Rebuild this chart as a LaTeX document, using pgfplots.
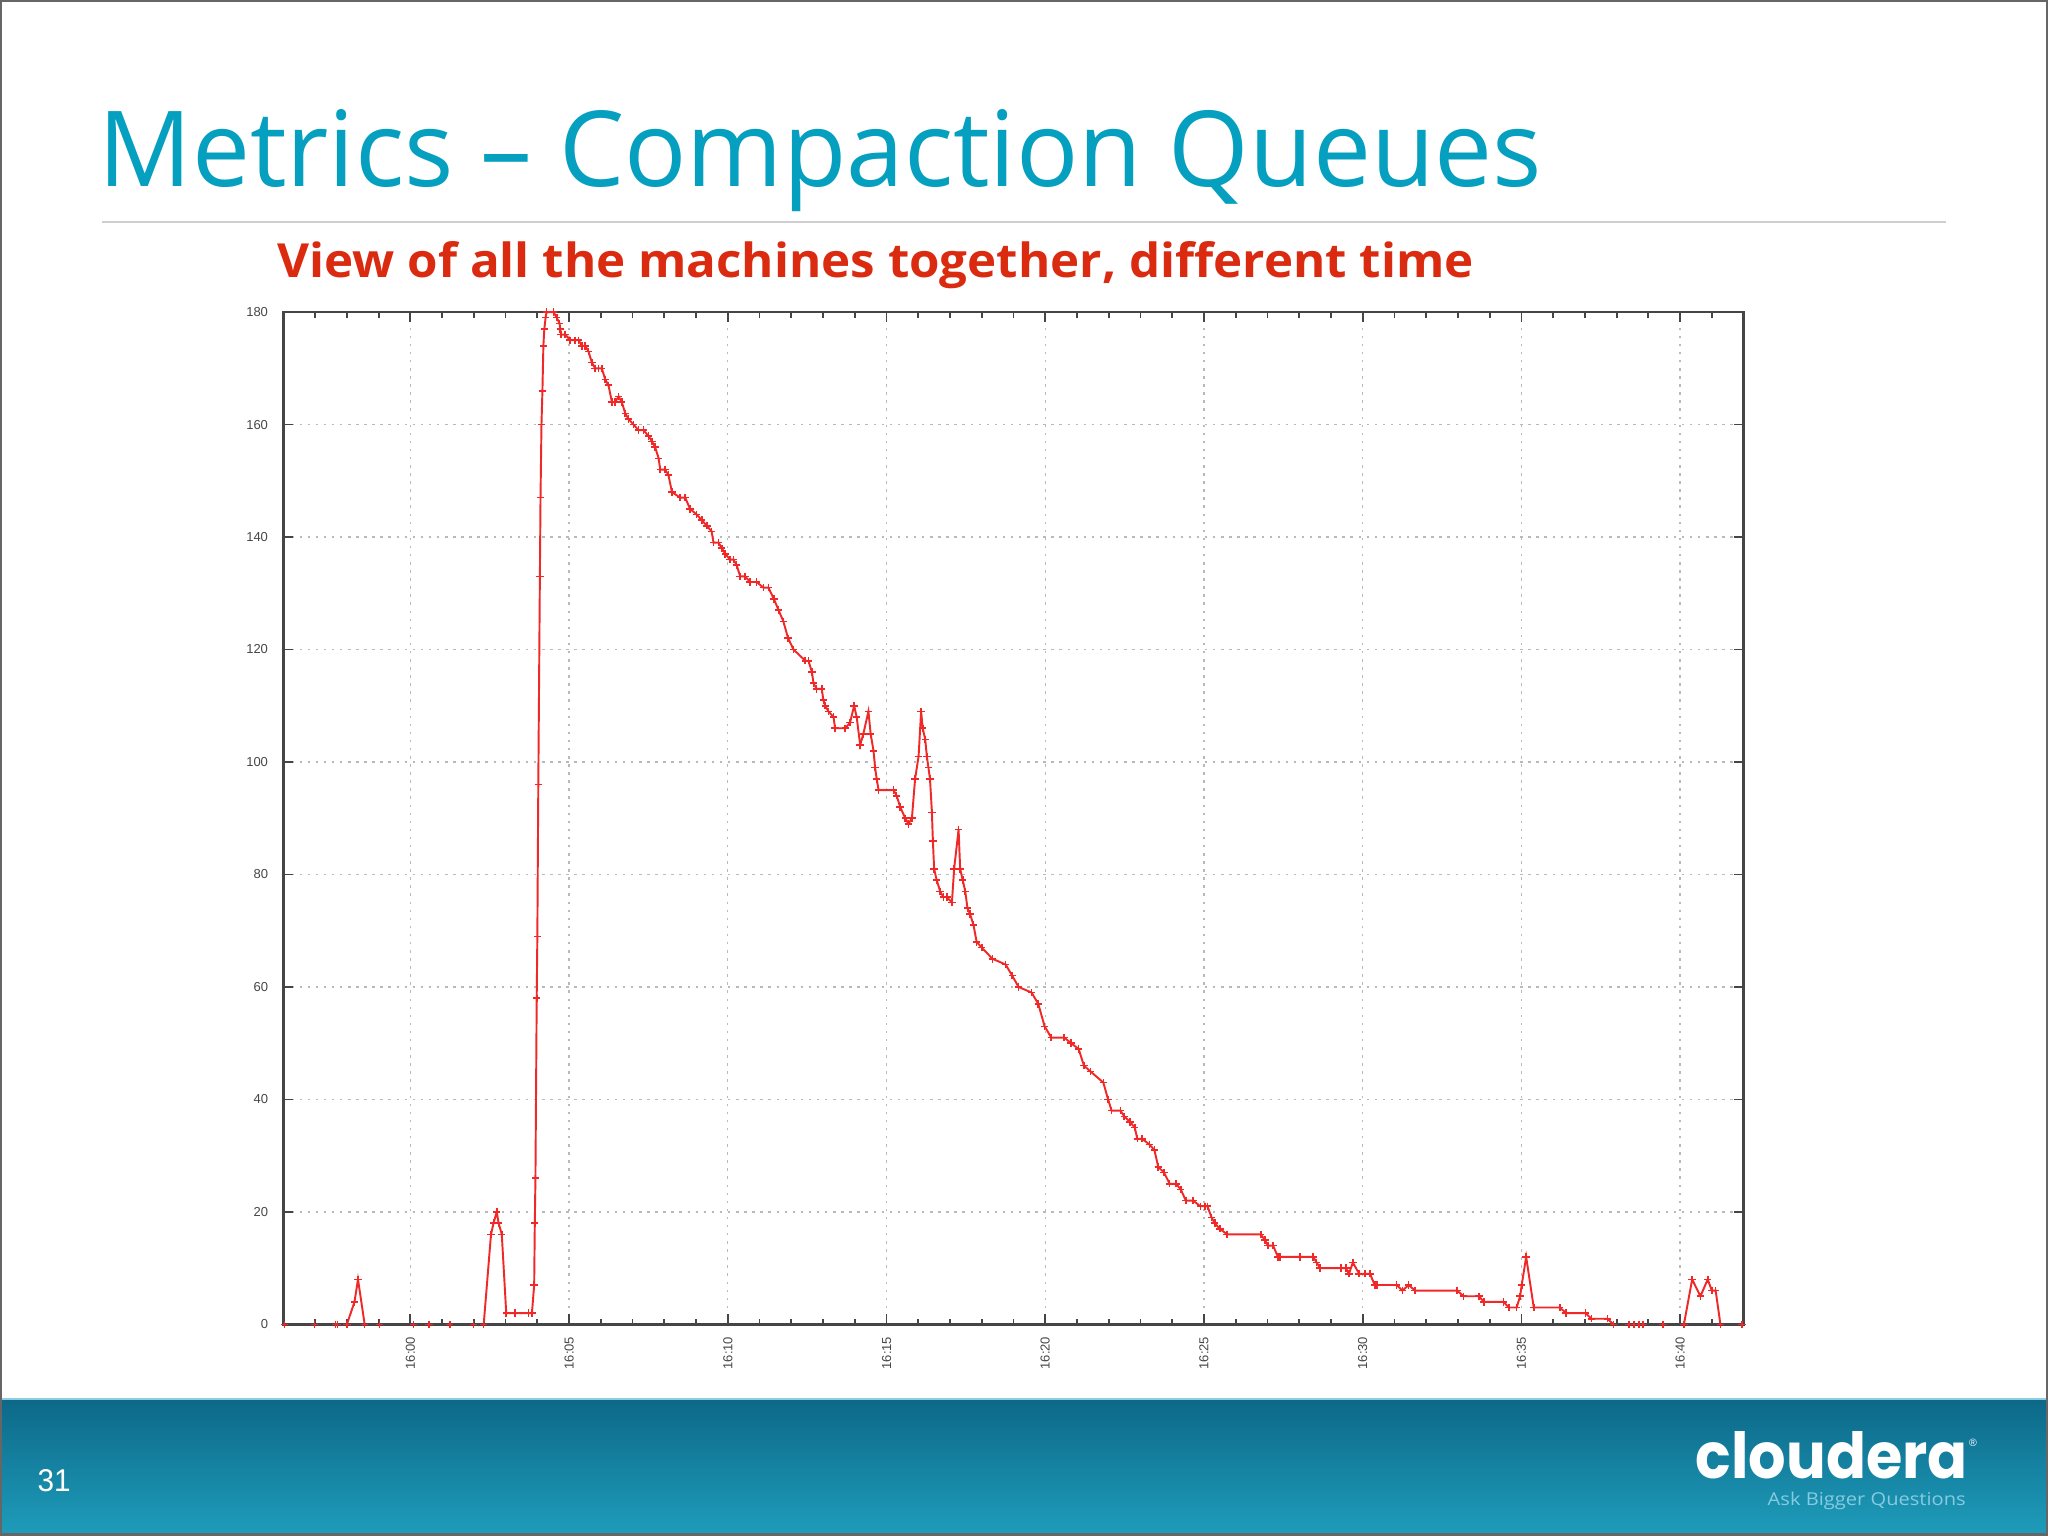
\documentclass[border=0pt]{standalone}
\usepackage{fontspec}
\usepackage{graphicx}
\usepackage{pgfplots}
\usepackage{pgfplotstable}
\pgfplotsset{compat=1.18}
\setmainfont{Open Sans}
\newfontfamily\tickfont{Liberation Sans}
\newfontfamily\numfont{Liberation Sans}
\newfontfamily\logofont{Poppins}
\definecolor{titleblue}{HTML}{059FBF}
\definecolor{subred}{HTML}{DA2A10}
\definecolor{rulegray}{HTML}{CFCFCF}
\definecolor{foottop}{HTML}{0D6888}
\definecolor{footbot}{HTML}{1E9DBB}
\definecolor{footline}{HTML}{8CCDE0}
\definecolor{tagblue}{HTML}{86CBE0}
\definecolor{axisgray}{HTML}{454545}
\definecolor{plotred}{HTML}{F02828}

\pgfplotstableread{
m v
-3.96 0
nan nan
-3.02 0
nan nan
-2.36 0
-2.29 0
nan nan
-2.00 0
-1.76 4
-1.65 8
-1.44 0
nan nan
-0.97 0
nan nan
0.10 0
nan nan
0.59 0
nan nan
1.24 0
nan nan
1.99 0
nan nan
2.31 0
2.54 16
2.62 18
2.72 20
2.78 18
2.88 16
3.02 2
3.30 2
3.72 2
3.83 2
3.90 7
3.92 18
3.94 26
3.98 58
4.00 69
4.03 96
4.08 133
4.10 147
4.13 160
4.16 166
4.19 174
4.22 177
4.26 179
4.29 180
4.51 180
4.61 179
4.70 178
4.72 177
4.75 176
4.88 176
5.03 175
5.19 175
5.30 175
5.40 174
5.51 174
5.61 173
5.72 171
5.82 170
5.93 170
6.03 170
6.14 168
6.24 167
6.35 164
6.45 164
6.56 165
6.66 164
6.77 162
6.87 161
7.03 160
7.19 159
7.34 159
7.50 158
7.61 157
7.71 156
7.82 154
7.87 152
8.03 152
8.13 151
8.24 148
8.50 147
8.66 147
8.81 145
9.02 144
9.18 143
9.34 142
9.49 141
9.55 139
9.71 139
9.81 138
9.92 137
10.07 136
10.18 136
10.28 135
10.39 133
10.55 133
10.70 132
10.91 132
11.12 131
11.28 131
11.45 129
11.60 127
11.75 125
11.90 122
12.07 120
12.44 118
12.54 118
12.65 116
12.70 114
12.80 113
12.96 113
13.01 111
13.07 110
13.17 109
13.33 108
13.38 106
13.70 106
13.85 107
13.98 110
14.06 108
14.17 103
14.27 105
14.43 109
14.50 105
14.59 102
14.64 99
14.69 97
14.75 95
15.22 95
15.32 94
15.43 92
15.59 90
15.69 89
15.80 90
15.90 97
16.01 101
16.09 109
16.14 106
16.22 104
16.27 101
16.32 99
16.37 97
16.43 91
16.46 86
16.50 81
16.58 79
16.69 77
16.79 76
16.90 76
17.06 75
17.13 81
17.27 88
17.32 81
17.40 79
17.48 77
17.55 74
17.63 73
17.74 71
17.84 68
18.00 67
18.34 65
18.75 64
18.96 62
19.16 60
19.57 59
19.78 57
19.98 53
20.19 51
20.60 51
20.81 50
21.05 49
21.22 46
21.42 45
21.83 43
21.98 40
22.09 38
22.37 38
22.49 37
22.67 36
22.82 35
22.90 33
23.05 33
23.28 32
23.44 31
23.56 28
23.74 27
23.92 25
24.12 25
24.27 24
24.43 22
24.66 22
24.89 21
25.04 21
25.11 21
25.24 19
25.34 18
25.50 17
25.73 16
26.79 16
26.92 15
27.02 14
27.18 14
27.33 12
27.40 12
28.02 12
28.44 12
28.55 11
28.66 10
29.31 10
29.47 10
29.57 9
29.69 11
29.89 9
30.08 9
30.23 9
30.38 7
30.46 7
31.07 7
31.25 6
31.45 7
31.65 6
32.98 6
33.18 5
33.66 5
33.82 4
34.43 4
34.61 3
34.85 3
34.96 5
35.01 7
35.15 12
35.39 3
36.21 3
36.41 2
37.02 2
37.21 1
37.71 1
37.90 0
nan nan
38.39 0
nan nan
38.55 0
nan nan
38.70 0
nan nan
38.83 0
nan nan
39.46 0
nan nan
40.12 0
40.38 8
40.64 5
40.87 8
41.00 6
41.12 6
41.27 0
nan nan
41.95 0
}\datatable

\begin{document}
\begin{tikzpicture}
\useasboundingbox (0,0) rectangle (20.48,15.36);
\fill[white] (0,0) rectangle (20.48,15.36);
% footer band
\shade[top color=foottop, bottom color=footbot] (0,0) rectangle (20.48,1.37);
\draw[footline, line width=0.25mm] (0,1.37) -- (20.48,1.37);
% title
\node[anchor=base west, inner sep=0, text=titleblue] at (0.98,13.49)
  {\resizebox{14.43cm}{0.77cm}{Metrics – Compaction Queues}};
\draw[rulegray, line width=0.15mm] (1.02,13.14) -- (19.46,13.14);
\node[anchor=base west, inner sep=0, text=subred] at (2.77,12.58)
  {\resizebox{11.96cm}{0.36cm}{\bfseries View of all the machines together, different time}};
% footer texts
\node[anchor=base west, inner sep=0, text=white] at (0.37,0.44)
  {\resizebox{0.33cm}{0.22cm}{\numfont 31}};
\node[anchor=base west, inner sep=0, text=white] at (16.95,0.575)
  {\resizebox{2.72cm}{0.47cm}{\logofont\bfseries cloudera}};
\node[inner sep=0, text=white] at (19.73,0.93) {\numfont\fontsize{3}{3}\selectfont ®};
\node[anchor=base west, inner sep=0, text=tagblue] at (17.67,0.30)
  {\resizebox{1.98cm}{0.135cm}{Ask Bigger Questions}};

\begin{axis}[
  at={(2.834cm,2.116cm)}, anchor=south west,
  width=14.602cm, height=10.123cm, scale only axis,
  xmin=-4, xmax=42, ymin=0, ymax=180,
  xtick={0,5,...,40},
  xticklabels={16:00,16:05,16:10,16:15,16:20,16:25,16:30,16:35,16:40},
  minor xtick={-3,-2,...,41},
  ytick={0,20,...,180},
  grid=major,
  major grid style={draw=gray!55, line width=0.35pt, dash pattern=on 0.7pt off 1.6pt},
  axis line style={draw=axisgray, line width=0.65pt},
  tick style={draw=axisgray, line width=0.5pt},
  major tick length=1mm, minor tick length=0.55mm,
  tick align=inside,
  xtick pos=both, ytick pos=both,
  /pgf/number format/assume math mode=true,
  ticklabel style={font=\tickfont\fontsize{3.7}{4.2}\selectfont, text=black!72},
  x tick label style={rotate=90, anchor=east},
  yticklabel style={xshift=-0.3mm},
  unbounded coords=jump,
  clip=false,
]
\addplot[plotred, line width=0.55pt, mark=+, mark size=1.05pt,
  mark options={line width=0.45pt}] table[x=m, y=v] {\datatable};
\end{axis}
\draw[gray!80!black, line width=0.5mm] (0,0) rectangle (20.48,15.36);
\end{tikzpicture}
\end{document}
